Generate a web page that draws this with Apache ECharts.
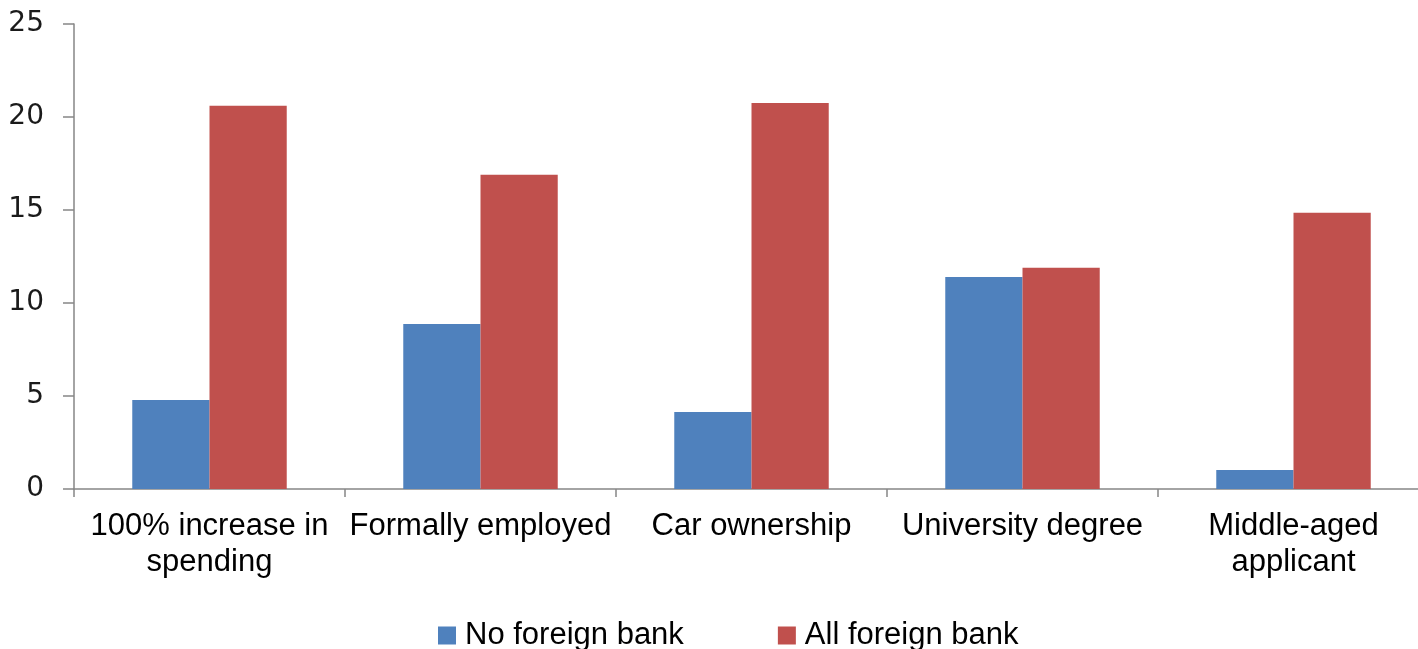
<!DOCTYPE html>
<html>
<head>
<meta charset="utf-8">
<script src="https://cdn.jsdelivr.net/npm/echarts@6/dist/echarts.min.js"></script>
<style>
html,body{margin:0;padding:0;background:#fff;}
#chart{width:1418px;height:649px;}
</style>
</head>
<body>
<div id="chart"></div>
<script>
const categories = ['100% increase in\nspending', 'Formally employed', 'Car ownership', 'University degree', 'Middle-aged\napplicant'];
const seriesNames = ['No foreign bank', 'All foreign bank'];
const noForeignBank = [4.78, 8.87, 4.14, 11.4, 1.02];
const allForeignBank = [20.6, 16.9, 20.75, 11.9, 14.85];
const yTicks = [0, 5, 10, 15, 20, 25];

const chart = echarts.init(document.getElementById('chart'));
chart.setOption({
  animation: false,
  backgroundColor: '#ffffff',
  grid: { left: 74, width: 1355, top: 24, height: 465, containLabel: false, outerBoundsMode: 'none' },
  legend: {
    data: seriesNames,
    left: 438,
    top: 620,
    padding: 0,
    itemWidth: 18,
    itemHeight: 18,
    itemGap: 94,
    icon: 'rect',
    textStyle: { fontFamily: 'Liberation Sans', fontSize: 31, color: '#000', padding: [0,0,0,4] }
  },
  xAxis: {
    type: 'category',
    data: categories,
    axisLine: { lineStyle: { color: '#868686', width: 1.5 } },
    axisTick: { show: true, length: 8, lineStyle: { color: '#868686', width: 1.5 } },
    axisLabel: { fontFamily: 'Liberation Sans', fontSize: 31, color: '#000', lineHeight: 36, margin: 19, interval: 0 }
  },
  yAxis: {
    type: 'value',
    min: yTicks[0],
    max: yTicks[yTicks.length - 1],
    interval: 5,
    splitLine: { show: false },
    axisLine: { show: true, lineStyle: { color: '#868686', width: 1.5 } },
    axisTick: { show: true, length: 11, lineStyle: { color: '#868686', width: 1.5 } },
    axisLabel: { fontFamily: 'DejaVu Sans', fontSize: 28, color: '#1a1a1a', margin: 30 }
  },
  series: [
    { name: seriesNames[0], type: 'bar', data: noForeignBank, barGap: '0%', barCategoryGap: '43%', itemStyle: { color: '#4F81BD' } },
    { name: seriesNames[1], type: 'bar', data: allForeignBank, barGap: '0%', barCategoryGap: '43%', itemStyle: { color: '#C0504D' } }
  ]
});
</script>
</body>
</html>
